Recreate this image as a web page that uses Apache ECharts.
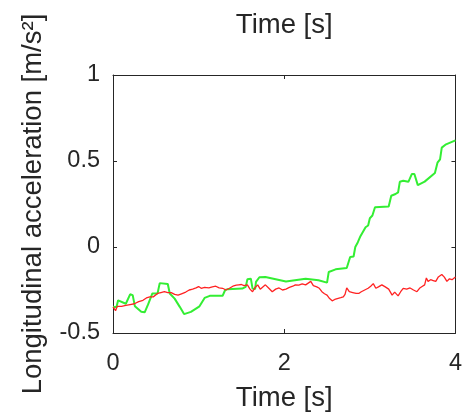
<!DOCTYPE html>
<html>
<head>
<meta charset="utf-8">
<script src="https://cdn.jsdelivr.net/npm/echarts@6/dist/echarts.min.js"></script>
<style>html,body{margin:0;padding:0;background:#fff;}#c{width:465px;height:417px;}</style>
</head>
<body>
<div id="c"></div>
<script>
const xTicks = [0, 2, 4];
const yTicks = [-0.5, 0, 0.5, 1];
const xLabel = 'Time [s]';
const yLabel = 'Longitudinal acceleration [m/s²]';

const greenPoints = [
[0,-0.348],[0.04,-0.35],[0.06,-0.31],[0.15,-0.33],[0.2,-0.275],[0.23,-0.28],[0.256,-0.345],
[0.33,-0.377],[0.37,-0.38],[0.41,-0.334],[0.43,-0.335],[0.46,-0.27],[0.52,-0.27],[0.546,-0.21],
[0.64,-0.215],[0.663,-0.27],[0.72,-0.30],[0.78,-0.348],[0.83,-0.39],[0.85,-0.40],[0.91,-0.377],
[1.01,-0.345],[1.07,-0.296],[1.13,-0.284],[1.28,-0.284],[1.31,-0.25],[1.34,-0.245],[1.51,-0.242],
[1.55,-0.232],[1.57,-0.188],[1.61,-0.184],[1.63,-0.242],[1.66,-0.245],[1.67,-0.203],[1.71,-0.176],
[1.78,-0.174],[2.02,-0.2],[2.25,-0.184],[2.40,-0.193],[2.50,-0.207],[2.52,-0.145],[2.60,-0.13],
[2.73,-0.122],[2.77,-0.058],[2.81,-0.055],[2.83,0.0],[2.86,0.028],[2.89,0.063],[2.91,0.066],
[2.95,0.115],[2.98,0.125],[3.00,0.167],[3.03,0.183],[3.06,0.231],[3.22,0.235],[3.25,0.298],
[3.30,0.308],[3.33,0.318],[3.35,0.379],[3.39,0.385],[3.45,0.379],[3.49,0.424],[3.52,0.424],
[3.56,0.36],[3.64,0.38],[3.76,0.43],[3.79,0.49],[3.82,0.51],[3.84,0.578],[3.89,0.597],[4.0,0.62]
];

const redPoints = [
[0,-0.348],[0.03,-0.37],[0.05,-0.345],[0.1,-0.345],[0.15,-0.34],[0.2,-0.335],[0.25,-0.33],
[0.3,-0.318],[0.35,-0.31],[0.39,-0.296],[0.43,-0.29],[0.47,-0.29],[0.52,-0.27],[0.56,-0.265],
[0.6,-0.26],[0.64,-0.265],[0.68,-0.265],[0.72,-0.275],[0.76,-0.28],[0.8,-0.272],[0.85,-0.262],
[0.89,-0.25],[0.93,-0.245],[0.97,-0.238],[1.0,-0.23],[1.03,-0.24],[1.07,-0.235],[1.12,-0.238],
[1.16,-0.232],[1.2,-0.228],[1.24,-0.238],[1.28,-0.24],[1.32,-0.25],[1.36,-0.24],[1.4,-0.228],
[1.44,-0.222],[1.47,-0.22],[1.5,-0.218],[1.53,-0.225],[1.57,-0.22],[1.6,-0.245],[1.63,-0.26],
[1.66,-0.235],[1.69,-0.22],[1.72,-0.245],[1.75,-0.232],[1.78,-0.22],[1.82,-0.24],[1.86,-0.26],
[1.9,-0.245],[1.94,-0.238],[1.98,-0.25],[2.02,-0.245],[2.06,-0.235],[2.1,-0.228],[2.13,-0.22],
[2.17,-0.222],[2.21,-0.215],[2.25,-0.22],[2.28,-0.21],[2.31,-0.2],[2.34,-0.225],[2.38,-0.232],
[2.41,-0.24],[2.44,-0.26],[2.47,-0.272],[2.5,-0.28],[2.53,-0.3],[2.56,-0.313],[2.59,-0.305],
[2.62,-0.3],[2.66,-0.295],[2.69,-0.29],[2.71,-0.275],[2.73,-0.238],[2.76,-0.26],[2.8,-0.265],
[2.84,-0.27],[2.87,-0.27],[2.9,-0.26],[2.94,-0.25],[2.98,-0.24],[3.01,-0.228],[3.04,-0.213],
[3.07,-0.24],[3.1,-0.232],[3.14,-0.22],[3.18,-0.232],[3.22,-0.245],[3.26,-0.28],[3.29,-0.262],
[3.33,-0.284],[3.36,-0.26],[3.39,-0.24],[3.43,-0.245],[3.47,-0.238],[3.51,-0.25],[3.55,-0.26],
[3.58,-0.24],[3.61,-0.23],[3.64,-0.22],[3.66,-0.18],[3.68,-0.2],[3.71,-0.19],[3.74,-0.195],
[3.77,-0.2],[3.8,-0.174],[3.84,-0.16],[3.87,-0.175],[3.9,-0.2],[3.93,-0.185],[3.96,-0.19],[4.0,-0.174]
];

const axisColor = '#262626';
const font = 'Liberation Sans, Arial, sans-serif';
const tickFs = 23.5;
const labelFs = 27.5;

const chart = echarts.init(document.getElementById('c'), null, {renderer: 'canvas'});
const baseX = {
  type: 'value', min: xTicks[0], max: xTicks[xTicks.length-1], interval: xTicks[1]-xTicks[0],
  axisLine: {show: true, onZero: false, lineStyle: {color: axisColor, width: 1}},
  axisTick: {show: true, inside: true, length: 4, lineStyle: {color: axisColor}},
  splitLine: {show: false},
  nameLocation: 'middle',
  nameTextStyle: {fontFamily: font, fontSize: labelFs, color: axisColor}
};
const baseY = {
  type: 'value', min: yTicks[0], max: yTicks[yTicks.length-1], interval: yTicks[1]-yTicks[0],
  axisLine: {show: true, onZero: false, lineStyle: {color: axisColor, width: 1}},
  axisTick: {show: true, inside: true, length: 4, lineStyle: {color: axisColor}},
  splitLine: {show: false},
  nameLocation: 'middle',
  nameTextStyle: {fontFamily: font, fontSize: labelFs, color: axisColor}
};
chart.setOption({
  animation: false,
  backgroundColor: '#fff',
  grid: {left: 113, right: 8, top: 75, bottom: 82, containLabel: false},
  xAxis: [
    Object.assign({}, baseX, {position: 'bottom', name: xLabel, nameGap: 51,
      axisLabel: {show: true, fontFamily: font, fontSize: tickFs, color: axisColor, margin: 19,
        formatter: v => String(v)}}),
    Object.assign({}, baseX, {position: 'top', name: xLabel, nameGap: 36,
      axisLabel: {show: false}})
  ],
  yAxis: [
    Object.assign({}, baseY, {position: 'left', name: yLabel, nameGap: 66,
      axisLabel: {show: true, fontFamily: font, fontSize: tickFs, color: axisColor, margin: 13,
        formatter: v => String(v)}}),
    Object.assign({}, baseY, {position: 'right', axisLabel: {show: false}})
  ],
  series: [
    {type: 'line', data: redPoints, showSymbol: false, smooth: false,
      lineStyle: {color: '#ff2222', width: 1.3}, z: 3},
    {type: 'line', data: greenPoints, showSymbol: false, smooth: false,
      lineStyle: {color: '#33ee33', width: 2}, z: 2}
  ]
});
</script>
</body>
</html>
